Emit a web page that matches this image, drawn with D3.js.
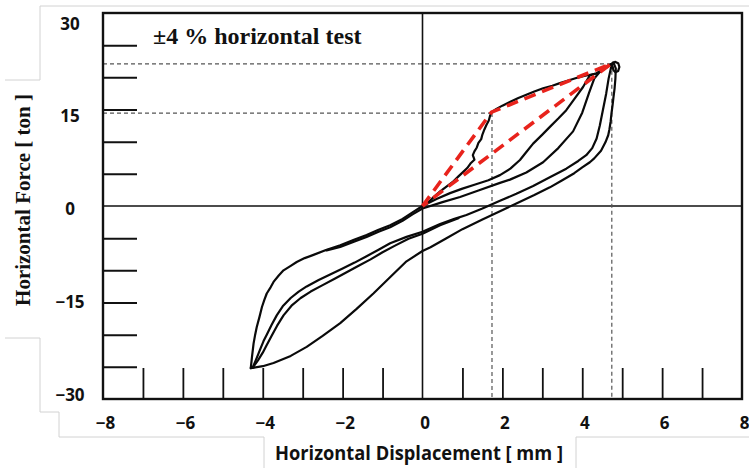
<!DOCTYPE html>
<html>
<head>
<meta charset="utf-8">
<script src="https://cdn.jsdelivr.net/npm/d3@7"></script>
<style>
  body { margin: 0; background: #fff; }
  svg { display: block; }
</style>
</head>
<body>
<svg id="chart" width="749" height="468"></svg>
<script>
// Axis ticks and labels
const xLabelValues = [-8, -6, -4, -2, 0, 2, 4, 6, 8];
const yLabelValues = [30, 15, 0, -15, -30];
const xMinorTicks = [-7, -6, -5, -4, -3, -2, -1, 1, 2, 3, 4, 5, 6, 7];
const yMinorTicks = [25, 20, 15, 10, 5, -5, -10, -15, -20, -25];

// Hysteresis record: displacement [mm], force [ton]
const virginLoading = [
  [0, 0], [0.15, 0.6], [0.3, 1.5], [0.45, 2.3], [0.6, 3.0], [0.75, 3.7], [0.9, 4.6],
  [1.02, 5.3], [1.12, 5.9], [1.2, 6.6], [1.3, 7.2], [1.26, 7.9], [1.3, 8.5], [1.36, 9.1],
  [1.4, 9.8], [1.47, 10.4], [1.5, 11.1], [1.55, 11.9], [1.6, 12.6], [1.66, 13.3],
  [1.69, 14.0], [1.73, 14.6], [1.85, 15.1], [2.0, 15.6], [2.2, 16.2], [2.4, 16.8],
  [2.6, 17.3], [2.8, 17.8], [3.02, 18.3], [3.25, 18.7], [3.44, 19.1], [3.65, 19.5],
  [3.85, 19.9], [4.05, 20.2], [4.2, 20.4], [4.35, 20.6], [4.5, 21.1], [4.62, 21.6], [4.74, 22.1]
];
const outerUnloading = [
  [4.78, 22.3], [4.84, 21.4], [4.83, 19.8], [4.81, 18.3], [4.78, 16.8], [4.76, 15.7],
  [4.73, 14.3], [4.71, 13.1], [4.68, 11.9], [4.65, 11.0], [4.58, 9.9], [4.47, 8.6],
  [4.3, 7.4], [4.19, 6.8], [4.0, 6.0], [3.8, 5.1], [3.5, 4.0], [3.19, 2.9], [2.8, 1.7],
  [2.35, 0.4], [1.94, -0.8], [1.5, -2.1], [1.0, -3.6], [0.6, -5.0], [0.2, -6.4], [0, -7.0],
  [-0.4, -8.6], [-0.8, -11.0], [-1.23, -13.6], [-1.65, -16.0], [-2.06, -18.2], [-2.5, -20.2],
  [-2.9, -21.9], [-3.3, -23.3], [-3.73, -24.4], [-4.0, -24.9], [-4.3, -25.2]
];
const outerReloading = [
  [-4.3, -25.2], [-4.27, -23.5], [-4.23, -21.4], [-4.19, -20.0], [-4.15, -18.8], [-4.08, -17.2],
  [-4.02, -15.7], [-3.96, -14.6], [-3.9, -13.6], [-3.8, -12.6], [-3.73, -11.8], [-3.6, -10.8],
  [-3.48, -10.0], [-3.3, -9.3], [-3.15, -8.7], [-2.95, -8.1], [-2.73, -7.6], [-2.4, -6.8],
  [-2.06, -6.1], [-1.7, -5.2], [-1.4, -4.5], [-1.1, -3.7], [-0.81, -3.0], [-0.5, -2.0],
  [-0.25, -1.0], [0, 0], [0.35, 1.1], [0.69, 2.0], [1.0, 2.7], [1.3, 3.3], [1.65, 4.0],
  [1.94, 4.8], [2.2, 5.8], [2.44, 7.15], [2.6, 8.4], [2.77, 9.7], [3.0, 11.1], [3.19, 12.3],
  [3.4, 13.6], [3.6, 14.9], [3.8, 16.6], [4.02, 18.5], [4.19, 20.3], [4.35, 20.6],
  [4.5, 21.1], [4.62, 21.6], [4.74, 22.1]
];
const innerReloading = [
  [-2.4, -6.9], [-2.06, -6.35], [-1.7, -5.5], [-1.4, -4.8], [-1.1, -4.0], [-0.81, -3.3],
  [-0.5, -2.3], [-0.25, -1.3], [0, -0.4], [0.5, 0.6], [0.94, 1.4], [1.4, 2.4], [1.94, 3.6],
  [2.19, 4.1], [2.6, 5.2], [3.02, 6.8], [3.4, 9.0], [3.77, 11.6], [4.0, 14.5], [4.17, 17.6],
  [4.3, 19.8], [4.5, 21.3], [4.74, 22.1]
];
const innerCycleA = [
  [-4.25, -25.1], [-4.15, -23.6], [-4.06, -22.2], [-3.98, -21.0], [-3.9, -20.0], [-3.78, -18.5],
  [-3.65, -17.0], [-3.5, -15.6], [-3.3, -14.3], [-3.1, -13.3], [-2.9, -12.5], [-2.6, -11.5],
  [-2.3, -10.6], [-2.0, -9.7], [-1.7, -8.8], [-1.4, -7.8], [-1.1, -6.8], [-0.81, -5.8],
  [-0.4, -4.8], [0, -4.0], [0.44, -2.8], [0.8, -2.0], [1.1, -1.4], [1.5, -0.4], [1.94, 0.8],
  [2.35, 1.9], [2.77, 3.1], [3.2, 4.5], [3.6, 5.8], [3.9, 7.0], [4.1, 7.9], [4.25, 9.0],
  [4.36, 10.5], [4.44, 12.5], [4.52, 15.0], [4.6, 17.5], [4.66, 19.8], [4.72, 21.5], [4.77, 22.3]
];
const innerCycleB = [
  [-4.25, -25.1], [-4.12, -24.0], [-4.0, -22.8], [-3.9, -21.6], [-3.78, -20.2], [-3.64, -18.6],
  [-3.48, -17.0], [-3.28, -15.5], [-3.05, -14.3], [-2.8, -13.3], [-2.5, -12.3], [-2.2, -11.3],
  [-1.9, -10.3], [-1.6, -9.3], [-1.3, -8.3], [-1.0, -7.2], [-0.7, -6.2], [-0.35, -5.1],
  [0, -4.3], [0.44, -3.0], [0.9, -1.9]
];
const peakKnot = [
  [4.74, 22.1], [4.82, 22.4], [4.9, 22.2], [4.93, 21.6], [4.9, 21.0], [4.83, 20.8],
  [4.78, 21.1], [4.76, 21.7]
];

// Idealised bilinear envelope and its reference points
const bilinearModel = [[0, 0], [1.73, 14.6], [4.72, 22.1], [0, 0]];
const yieldPoint = [1.74, 14.45];
const peakPoint = [4.74, 22.1];

const svg = d3.select("#chart");
const x = d3.scaleLinear().domain([-8, 8]).range([103, 742]);
const y = d3.scaleLinear().domain([-30, 30]).range([399, 13]);
const yLabelPos = d3.scaleLinear().domain([-30, 30]).range([400, 29]);

// light outlines of the surrounding text boxes
svg.append("path")
  .attr("d", "M5,80H40V6H749 M5,338H40V412H59V437H264V468 M576,468V437H749")
  .attr("fill", "none").attr("stroke", "#d2d2d2").attr("stroke-width", 1);

// zero lines
svg.append("line").attr("x1", x(-8)).attr("x2", x(8)).attr("y1", y(0)).attr("y2", y(0))
  .attr("stroke", "#111").attr("stroke-width", 1.6);
svg.append("line").attr("x1", x(0)).attr("x2", x(0)).attr("y1", y(30)).attr("y2", y(-30))
  .attr("stroke", "#111").attr("stroke-width", 1.6);

// dashed guides to the yield and peak points
const guides = svg.append("g").attr("stroke", "#555").attr("stroke-width", 1.2)
  .attr("stroke-dasharray", "4,3").attr("fill", "none");
[yieldPoint, peakPoint].forEach(p => {
  guides.append("line").attr("x1", x(-8)).attr("x2", x(p[0])).attr("y1", y(p[1])).attr("y2", y(p[1]));
  guides.append("line").attr("x1", x(p[0])).attr("x2", x(p[0])).attr("y1", y(p[1])).attr("y2", y(-30));
});

// inner tick marks
const yTickAxis = svg.append("g").attr("transform", `translate(${x(-8)},0)`)
  .call(d3.axisRight(y).tickValues(yMinorTicks).tickSize(34).tickFormat(""));
yTickAxis.select(".domain").remove();
yTickAxis.selectAll(".tick line").attr("stroke", "#111").attr("stroke-width", 2);

const xTickAxis = svg.append("g").attr("transform", `translate(0,${y(-30)})`)
  .call(d3.axisTop(x).tickValues(xMinorTicks).tickSize(31).tickFormat(""));
xTickAxis.select(".domain").remove();
xTickAxis.selectAll(".tick line").attr("stroke", "#111").attr("stroke-width", 1.8);

// plot frame
svg.append("rect").attr("x", x(-8)).attr("y", y(30))
  .attr("width", x(8) - x(-8)).attr("height", y(-30) - y(30))
  .attr("fill", "none").attr("stroke", "#111").attr("stroke-width", 2.4);

// hysteresis loops
const line = d3.line().x(d => x(d[0])).y(d => y(d[1]));
const loops = svg.append("g").attr("fill", "none").attr("stroke", "#0a0a0a")
  .attr("stroke-width", 2.2).attr("stroke-linejoin", "round").attr("stroke-linecap", "round");
[virginLoading, outerUnloading, outerReloading, innerReloading, innerCycleA, innerCycleB, peakKnot]
  .forEach(s => loops.append("path").attr("d", line(s)));

// bilinear model
svg.append("path").attr("d", line(bilinearModel))
  .attr("fill", "none").attr("stroke", "#e8231c").attr("stroke-width", 3.6)
  .attr("stroke-dasharray", "12,7").attr("stroke-linejoin", "round");

// tick labels
const labelFont = "'Open Sans', Lato, sans-serif";
const serifFont = "'Liberation Serif', 'Times New Roman', serif";
const yLabelAxis = svg.append("g").attr("transform", `translate(${x(-8)},0)`)
  .call(d3.axisLeft(yLabelPos).tickValues(yLabelValues).tickSize(0).tickFormat(d3.format("d")));
yLabelAxis.select(".domain").remove();
yLabelAxis.selectAll("text").attr("x", -33).attr("dy", 0).attr("text-anchor", "middle")
  .attr("font-family", labelFont).attr("font-weight", "bold").attr("font-size", 17).attr("fill", "#111");

const xLabelAxis = svg.append("g").attr("transform", `translate(2,${y(-30)})`)
  .call(d3.axisBottom(x).tickValues(xLabelValues).tickSize(0).tickFormat(d3.format("d")));
xLabelAxis.select(".domain").remove();
xLabelAxis.selectAll("text").attr("y", 30).attr("dy", 0)
  .attr("font-family", labelFont).attr("font-weight", "bold").attr("font-size", 17).attr("fill", "#111");

// axis titles
svg.append("text").attr("x", 419).attr("y", 460).attr("text-anchor", "middle")
  .attr("font-family", labelFont).attr("font-weight", "bold").attr("font-size", 20).attr("fill", "#111")
  .attr("textLength", 288).attr("lengthAdjust", "spacingAndGlyphs")
  .text("Horizontal Displacement [ mm ]");
svg.append("text").attr("transform", "translate(30,200) rotate(-90)").attr("text-anchor", "middle")
  .attr("font-family", serifFont).attr("font-weight", "bold")
  .attr("font-size", 21).attr("fill", "#111")
  .text("Horizontal Force [ ton ]");

// test label
svg.append("text").attr("x", 153).attr("y", 44)
  .attr("font-family", serifFont).attr("font-weight", "bold")
  .attr("font-size", 24).attr("fill", "#111")
  .text("±4 % horizontal test");
</script>
</body>
</html>
